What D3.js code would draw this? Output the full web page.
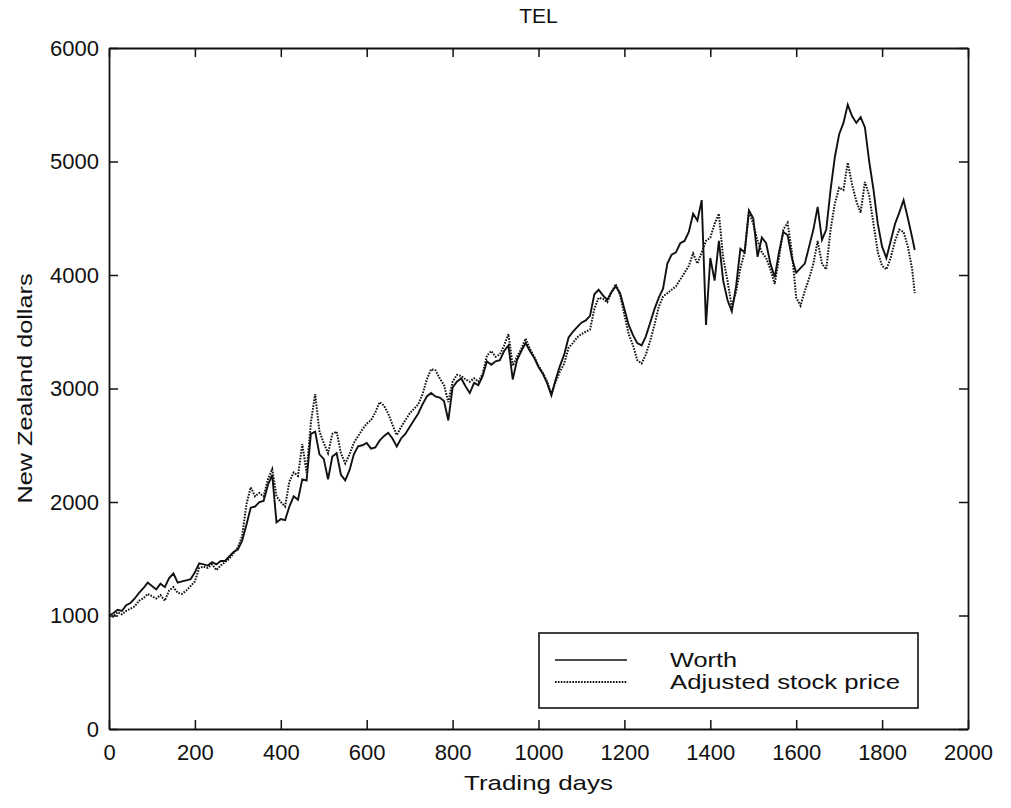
<!DOCTYPE html>
<html><head><meta charset="utf-8">
<script src="https://cdn.jsdelivr.net/npm/d3@7"></script>
<style>
html,body{margin:0;padding:0;background:#fff;}
text{font-family:"Liberation Sans",Arial,Helvetica,sans-serif;fill:#111;}
</style>
</head><body>
<svg id="chart" width="1011" height="808"></svg>
<script>
const titleText = "TEL";
const xLabel = "Trading days";
const yLabel = "New Zealand dollars";
const legendLabels = ["Worth", "Adjusted stock price"];
const xTicks = [0,200,400,600,800,1000,1200,1400,1600,1800,2000];
const yTicks = [0,1000,2000,3000,4000,5000,6000];

const days = [0,10,20,30,40,50,60,70,80,90,100,110,120,130,140,150,160,170,180,190,
200,210,220,230,240,250,260,270,280,290,300,310,320,330,340,350,360,370,380,390,
400,410,420,430,440,450,460,470,480,490,500,510,520,530,540,550,560,570,580,590,
600,610,620,630,640,650,660,670,680,690,700,710,720,730,740,750,760,770,780,790,
800,810,820,830,840,850,860,870,880,890,900,910,920,930,940,950,960,970,980,990,
1000,1010,1020,1030,1040,1050,1060,1070,1080,1090,1100,1110,1120,1130,1140,1150,1160,1170,1180,1190,
1200,1210,1220,1230,1240,1250,1260,1270,1280,1290,1300,1310,1320,1330,1340,1350,1360,1370,1380,1390,
1400,1410,1420,1430,1440,1450,1460,1470,1480,1490,1500,1510,1520,1530,1540,1550,1560,1570,1580,1590,
1600,1610,1620,1630,1640,1650,1660,1670,1680,1690,1700,1710,1720,1730,1740,1750,1760,1770,1780,1790,
1800,1810,1820,1830,1840,1850,1860,1870,1876];

const worth = [1000,1020,1050,1040,1090,1110,1150,1200,1240,1290,1260,1230,1280,1250,1330,1370,1290,1300,1310,1320,
1380,1460,1450,1440,1470,1450,1480,1480,1520,1560,1580,1660,1800,1950,1960,2000,2010,2150,2240,1820,
1850,1840,1960,2050,2020,2200,2190,2600,2620,2420,2380,2200,2400,2430,2240,2190,2280,2420,2490,2500,
2520,2470,2480,2540,2580,2610,2560,2490,2560,2600,2660,2720,2780,2860,2930,2960,2930,2920,2890,2720,
3010,3060,3090,3020,2960,3050,3030,3110,3240,3210,3240,3250,3330,3380,3080,3250,3330,3400,3330,3270,
3190,3130,3050,2940,3080,3200,3300,3450,3500,3540,3580,3600,3640,3830,3870,3820,3780,3850,3900,3840,
3700,3560,3470,3400,3380,3460,3580,3700,3800,3880,4100,4180,4200,4280,4300,4380,4540,4480,4660,3560,
4150,3950,4300,3950,3780,3680,3900,4230,4200,4570,4500,4160,4330,4280,4100,3980,4200,4380,4350,4150,
4020,4060,4100,4250,4400,4600,4310,4400,4750,5040,5240,5340,5500,5400,5340,5390,5300,5000,4750,4450,
4250,4150,4300,4450,4550,4660,4500,4330,4220];

const adjusted = [1000,990,1030,1010,1040,1060,1080,1130,1150,1190,1170,1150,1180,1130,1220,1250,1200,1190,1220,1260,
1300,1420,1430,1420,1450,1400,1440,1470,1500,1550,1600,1700,1980,2130,2050,2080,2050,2200,2290,2050,
2000,1960,2180,2260,2230,2510,2260,2700,2950,2620,2520,2430,2600,2620,2430,2340,2420,2520,2580,2640,
2690,2720,2790,2880,2850,2780,2680,2590,2660,2720,2780,2820,2860,2950,3080,3170,3160,3090,3030,2880,
3060,3120,3110,3080,3060,3090,3060,3130,3290,3330,3280,3300,3380,3480,3200,3280,3350,3440,3350,3280,
3200,3140,3060,2950,3060,3150,3220,3360,3400,3450,3480,3500,3520,3700,3800,3790,3760,3850,3920,3820,
3650,3480,3380,3250,3220,3300,3420,3560,3720,3810,3840,3870,3900,3960,4020,4080,4190,4100,4200,4300,
4330,4450,4540,4150,3950,3720,3850,4060,4200,4560,4450,4300,4200,4150,4050,3920,4150,4400,4460,4200,
3800,3730,3860,3970,4100,4300,4100,4050,4400,4630,4770,4750,4990,4800,4650,4550,4820,4700,4450,4200,
4080,4050,4150,4300,4400,4380,4250,4050,3840];

const svg = d3.select("#chart");
const L = 109, R = 968, T = 48, B = 729;
const x = d3.scaleLinear().domain([0,2000]).range([L,R]);
const y = d3.scaleLinear().domain([0,6000]).range([B,T]);
const fs = 21;
const tfs = 22;

// Axes (ticks inward, MATLAB style)
const gx = svg.append("g").attr("transform",`translate(0,${B})`)
  .call(d3.axisBottom(x).tickValues(xTicks).tickFormat(d3.format("d")).tickSizeInner(-9).tickSizeOuter(0).tickPadding(15));
const gy = svg.append("g").attr("transform",`translate(${L},0)`)
  .call(d3.axisLeft(y).tickValues(yTicks).tickFormat(d3.format("d")).tickSizeInner(-9).tickSizeOuter(0).tickPadding(10));
const gt = svg.append("g").attr("transform",`translate(0,${T})`)
  .call(d3.axisTop(x).tickValues(xTicks).tickFormat("").tickSizeInner(-9).tickSizeOuter(0));
const gr = svg.append("g").attr("transform",`translate(${R},0)`)
  .call(d3.axisRight(y).tickValues(yTicks).tickFormat("").tickSizeInner(-9).tickSizeOuter(0));
[gx,gy,gt,gr].forEach(g=>{
  g.attr("font-size",tfs);
  g.select(".domain").attr("stroke","#111").attr("stroke-width",1.8);
  g.selectAll(".tick line").attr("stroke","#111").attr("stroke-width",1.5);
  g.selectAll(".tick text").attr("font-size",tfs).attr("fill","#111").style("font-family","'Liberation Sans',Arial,sans-serif");
});

const pts = (vals) => days.map((d,i)=>[d, vals[i]]);
const line = d3.line().x(d=>x(d[0])).y(d=>y(d[1]));

svg.append("path").datum(pts(adjusted)).attr("d",line)
  .attr("fill","none").attr("stroke","#111").attr("stroke-width",2)
  .attr("stroke-dasharray","1.6 1.3");
svg.append("path").datum(pts(worth)).attr("d",line)
  .attr("fill","none").attr("stroke","#111").attr("stroke-width",1.9);

// Title & axis labels
svg.append("text").attr("x",(L+R)/2).attr("y",23).attr("text-anchor","middle")
  .attr("font-size",21).text(titleText);
svg.append("text").attr("x",(L+R)/2).attr("y",790).attr("text-anchor","middle")
  .attr("font-size",fs).attr("textLength",149).attr("lengthAdjust","spacingAndGlyphs").text(xLabel);
svg.append("text").attr("transform",`translate(32,${(T+B)/2}) rotate(-90)`).attr("text-anchor","middle")
  .attr("font-size",fs).attr("textLength",230).attr("lengthAdjust","spacingAndGlyphs").text(yLabel);

// Legend
const lg = svg.append("g");
lg.append("rect").attr("x",539).attr("y",633).attr("width",379).attr("height",75)
  .attr("fill","#fff").attr("stroke","#111").attr("stroke-width",1.6);
const lys = [660,682];
lg.append("line").attr("x1",555).attr("x2",627).attr("y1",lys[0]).attr("y2",lys[0])
  .attr("stroke","#111").attr("stroke-width",1.6);
lg.append("line").attr("x1",555).attr("x2",627).attr("y1",lys[1]).attr("y2",lys[1])
  .attr("stroke","#111").attr("stroke-width",1.8).attr("stroke-dasharray","1.6 1.3");
lg.append("text").attr("x",670).attr("y",667).attr("font-size",fs)
  .attr("textLength",67).attr("lengthAdjust","spacingAndGlyphs").text(legendLabels[0]);
lg.append("text").attr("x",670).attr("y",689).attr("font-size",fs)
  .attr("textLength",230).attr("lengthAdjust","spacingAndGlyphs").text(legendLabels[1]);
</script>
</body></html>
